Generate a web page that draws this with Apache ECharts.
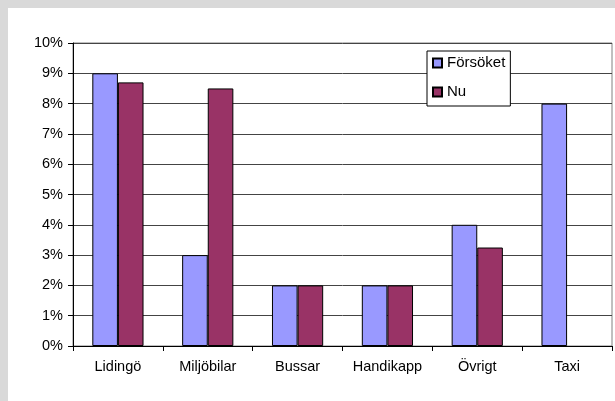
<!DOCTYPE html>
<html><head><meta charset="utf-8">
<script src="https://cdn.jsdelivr.net/npm/echarts@6/dist/echarts.min.js"></script>
<style>
html,body{margin:0;padding:0;background:#d9d9d9;}
#wrap{position:absolute;left:0;top:0;width:615px;height:401px;background:#d9d9d9;}
#chart{position:absolute;left:8px;top:8px;width:607px;height:393px;background:#fff;}
</style></head><body>
<div id="wrap"><div id="chart"></div></div>
<script>
const categories = ['Lidingö','Miljöbilar','Bussar','Handikapp','Övrigt','Taxi'];
const forsoket = [9, 3, 2, 2, 4, 8];
const nu = [8.7, 8.5, 2, 2, 3.25, null];
const yTicks = [0,1,2,3,4,5,6,7,8,9,10];

const chart = echarts.init(document.getElementById('chart'), null, {renderer:'canvas'});
const font = 'Liberation Sans, Arial, sans-serif';
chart.setOption({
  animation:false,
  textStyle:{fontFamily:font},
  grid:{left:65,top:35,right:3,bottom:55,show:true,borderColor:'#808080',borderWidth:1,backgroundColor:'#fff'},
  legend:{
    orient:'vertical', left:419, top:43,
    backgroundColor:'#fff', borderColor:'#000', borderWidth:1,
    padding:[4,5,6,5], itemGap:13, itemWidth:9, itemHeight:9,
    icon:'rect',
    textStyle:{fontFamily:font,fontSize:15,lineHeight:16,color:'#000'},
    data:['Försöket','Nu']
  },
  xAxis:{
    type:'category', data:categories,
    axisLine:{lineStyle:{color:'#000',width:1}},
    axisTick:{show:true,length:5,interval:0,lineStyle:{color:'#000'}},
    axisLabel:{color:'#000',fontSize:14.5,fontFamily:font,margin:13,interval:0,hideOverlap:false}
  },
  yAxis:{
    type:'value', min:yTicks[0], max:yTicks[yTicks.length-1], interval:1,
    axisLine:{show:true,lineStyle:{color:'#000',width:1}},
    axisTick:{show:true,length:5,lineStyle:{color:'#000'}},
    axisLabel:{color:'#000',fontSize:14.5,fontFamily:font,margin:10,formatter:'{value}%'},
    splitLine:{show:true,lineStyle:{color:'#444',width:1}}
  },
  series:[
    {name:'Försöket',type:'bar',data:forsoket,barGap:'0%',barCategoryGap:'43%',
     itemStyle:{color:'#9999ff',borderColor:'#000',borderWidth:1}},
    {name:'Nu',type:'bar',data:nu,barGap:'0%',barCategoryGap:'43%',
     itemStyle:{color:'#993366',borderColor:'#000',borderWidth:1}}
  ]
});
</script></body></html>
